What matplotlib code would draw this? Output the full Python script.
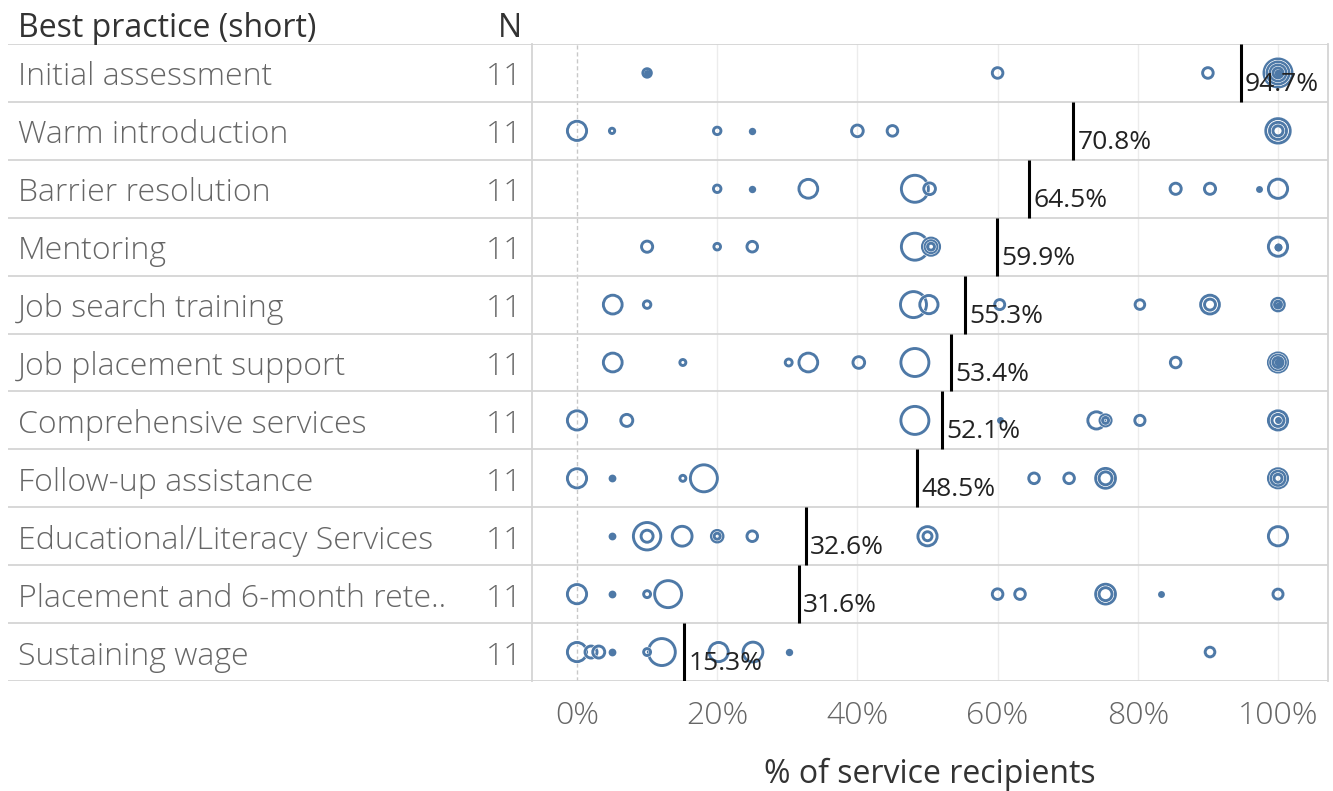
import numpy as np
import matplotlib.pyplot as plt

plt.rcParams['font.family'] = ['Open Sans', 'DejaVu Sans']

practices = [
    "Initial assessment",
    "Warm introduction",
    "Barrier resolution",
    "Mentoring",
    "Job search training",
    "Job placement support",
    "Comprehensive services",
    "Follow-up assistance",
    "Educational/Literacy Services",
    "Placement and 6-month rete..",
    "Sustaining wage",
]
n_orgs = [11, 11, 11, 11, 11, 11, 11, 11, 11, 11, 11]
weighted_means = [94.7, 70.8, 64.5, 59.9, 55.3, 53.4, 52.1, 48.5, 32.6, 31.6, 15.3]

# % of service recipients per organisation, one list per practice
pct_values = [
    [10, 10, 60, 90, 100, 100, 100, 100, 100, 100, 100],
    [0, 5, 20, 25, 40, 45, 100, 100, 100, 100, 100],
    [20, 25, 33, 48.2, 50.3, 85.4, 90.3, 97.3, 100, 100, 100],
    [10, 20, 25, 48.2, 50.5, 50.5, 50.5, 100, 100, 100, 100],
    [5.1, 10, 48, 50.2, 60.3, 80.3, 90.3, 90.3, 100, 100, 100],
    [5.1, 15.1, 30.2, 33, 40.2, 48.2, 85.4, 100, 100, 100, 100],
    [0, 7.1, 48.2, 60.3, 74.1, 75.4, 75.4, 80.3, 100, 100, 100],
    [0, 5, 15.1, 18.1, 65.2, 70.2, 75.4, 75.4, 100, 100, 100],
    [5, 10, 10, 15, 20, 20, 25, 50, 50, 100, 100],
    [0, 5, 10, 13, 60, 63.2, 75.4, 75.4, 83.3, 100, 100],
    [0, 2, 3.1, 5, 10, 12.1, 20.2, 25.1, 30.2, 90.3, 90.3],
]
# number of service recipients (circle area)
recipients = [
    [18, 4, 28, 28, 196, 196, 121, 121, 64, 25, 6],
    [92, 7, 14, 5, 34, 28, 149, 149, 72, 72, 25],
    [14, 5, 88, 182, 34, 31, 31, 4, 92, 92, 92],
    [31, 11, 28, 182, 74, 36, 12, 92, 92, 6, 6],
    [88, 14, 169, 83, 25, 23, 88, 30, 40, 12, 2],
    [88, 9, 12, 88, 34, 196, 28, 92, 55, 25, 6],
    [92, 36, 196, 4, 74, 31, 9, 26, 92, 36, 4],
    [92, 6, 9, 182, 28, 28, 98, 42, 92, 50, 16],
    [6, 188, 36, 98, 34, 9, 28, 92, 20, 92, 92],
    [92, 6, 12, 182, 28, 28, 98, 42, 4, 25, 25],
    [92, 36, 36, 6, 12, 182, 92, 98, 5, 23, 23],
]

blue = "#4e79a7"
px = 0.72  # points per pixel at dpi 100

fig = plt.figure(figsize=(13.33, 7.91), dpi=100)
W, H = 1333, 791
top, bot = 44, 681
ax = fig.add_axes([532 / W, 1 - bot / H, (1328 - 532) / W, (bot - top) / H])
tbl = fig.add_axes([0, 1 - bot / H, 532 / W, (bot - top) / H])

n_rows = len(practices)
ax.set_xlim(-45 / 7.01, 751 / 7.01)
ax.set_ylim(n_rows - 0.5, -0.5)
tbl.set_xlim(0, 532)
tbl.set_ylim(n_rows - 0.5, -0.5)
tbl.axis("off")

# grid
for g in [20, 40, 60, 80, 100]:
    ax.axvline(g, color="#ececec", lw=1, zorder=0)
ax.axvline(0, color="#c8c8c8", lw=1, ls=(0, (3, 2)), zorder=0)

# row separators
for b in np.arange(-0.5, n_rows, 1):
    ax.axhline(b, color="#d4d4d4", lw=1.3, zorder=1)
    tbl.hlines(b, 8, 532, color="#d4d4d4", lw=1.3)

for sp in ["top", "bottom"]:
    ax.spines[sp].set_visible(False)
for sp in ["left", "right"]:
    ax.spines[sp].set_color("#d4d4d4")
    ax.spines[sp].set_linewidth(1.3)

# circles, largest first so the small ones sit on top
lw_px = 2.9
for i in range(n_rows):
    order = np.argsort(recipients[i])[::-1]
    for k in order:
        r = np.sqrt(recipients[i][k])
        x = pct_values[i][k]
        if r <= 2.6:
            d = 2 * r + lw_px
            ax.scatter(x, i, s=(d * px) ** 2, color=blue, linewidths=0, zorder=3)
            continue
        s = (2 * r * px) ** 2
        ax.scatter(x, i, s=s, facecolors="none", edgecolors="white",
                   linewidths=(lw_px + 1.0) * px, zorder=3)
        ax.scatter(x, i, s=s, facecolors="none", edgecolors=blue,
                   linewidths=lw_px * px, zorder=3)

# weighted mean lines
for i, m in enumerate(weighted_means):
    ax.vlines(m, i - 0.5, i + 0.5, color="black", lw=2.2, zorder=4)
    ax.text(m + 0.6, i + 0.2, f"{m:.1f}%", fontsize=19, color="#222222",
            va="center", ha="left", zorder=5)

# table text
fs = 23
for i, (name, n) in enumerate(zip(practices, n_orgs)):
    tbl.text(18, i + 0.216, name, fontsize=fs, color="#666666",
             fontweight="light", va="baseline", ha="left")
    tbl.text(522, i + 0.216, str(n), fontsize=fs, color="#666666",
             fontweight="light", va="baseline", ha="right")

fig.text(18 / W, 1 - 37 / H, "Best practice (short)", fontsize=fs,
         color="#333333", va="baseline", ha="left")
fig.text(522 / W, 1 - 37 / H, "N", fontsize=fs, color="#333333",
         va="baseline", ha="right")

ax.set_yticks([])
ticks = [0, 20, 40, 60, 80, 100]
ax.set_xticks(ticks)
ax.set_xticklabels([f"{t}%" for t in ticks], fontsize=fs, color="#666666",
                   fontweight="light")
ax.tick_params(axis="x", length=0, pad=14)

fig.text(930 / W, 1 - 783 / H, "% of service recipients", fontsize=fs,
         color="#333333", va="baseline", ha="center")

fig.savefig("out.png", dpi=100)
